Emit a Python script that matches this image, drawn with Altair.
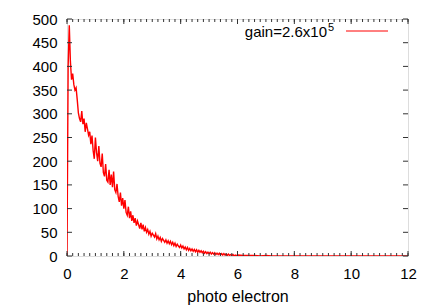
import altair as alt
import pandas as pd

# histogram counts, bins of 0.04 photo electrons from 0 to 6
bin_width = 0.04
counts = [
    0, 400, 487, 410, 372, 385, 362, 350, 355, 330,
    302, 290, 283, 306, 278, 290, 262, 281, 268, 255,
    262, 236, 254, 222, 205, 250, 218, 200, 232, 196,
    188, 216, 176, 168, 194, 160, 156, 182, 150, 172,
    145, 178, 140, 134, 152, 126, 114, 134, 106, 122,
    100, 118, 92, 86, 104, 80, 94, 74, 86, 70,
    80, 64, 74, 66, 58, 70, 56, 66, 52, 60,
    50, 56, 46, 52, 42, 48, 44, 40, 47, 36,
    42, 34, 39, 31, 37, 33, 29, 34, 27, 32,
    26, 31, 24, 29, 22, 27, 20, 25, 21, 18,
    23, 17, 21, 15, 19, 13, 18, 12, 16, 11,
    15, 10, 14, 9, 13, 8, 12, 8, 11, 7,
    10, 6, 9, 5, 8, 5, 8, 4, 7, 4,
    7, 3, 6, 3, 6, 2, 5, 2, 5, 2,
    4, 1, 4, 1, 3, 1, 3, 0, 2, 1,
]
# tail from 6 to 12 (step 0.2)
tail_x = [6.0, 6.2, 6.4, 6.6, 6.8, 7.0, 7.2, 7.4, 7.6, 7.8, 8.0, 8.2, 8.4, 8.6, 8.8,
          9.0, 9.2, 9.4, 9.6, 9.8, 10.0, 10.2, 10.4, 10.6, 10.8, 11.0, 11.2, 11.4, 11.6, 11.8, 12.0]
tail_counts = [2, 1, 1, 1, 0, 1, 0, 0, 0, 0, 0, 0, 0, 0, 0,
               0, 0, 0, 0, 0, 0, 0, 0, 0, 0, 0, 0, 0, 0, 0, 0]

x_major = [0, 2, 4, 6, 8, 10, 12]
x_minor = [round(i * 0.2, 1) for i in range(61)]
y_major = [0, 50, 100, 150, 200, 250, 300, 350, 400, 450, 500]

legend_label = "gain=2.6x10"
legend_sup = "5"

W, H = 341, 237
FONT = "Liberation Sans"

xs = [round(i * bin_width, 2) for i in range(len(counts))] + tail_x
ys = counts + tail_counts
df = pd.DataFrame({"x": xs, "y": ys})

xscale = alt.Scale(domain=[0, 12], nice=False, zero=False)
yscale = alt.Scale(domain=[0, 500], nice=False)

xaxis = alt.Axis(values=x_major, title="photo electron", tickSize=0, domain=False,
                 grid=False, labelPadding=10, labelFontSize=15, labelColor="black",
                 labelFont=FONT, titleFont=FONT, titleFontSize=16, labelOverlap=False,
                 labelFlush=False, titleFontWeight="normal", titleColor="black",
                 titlePadding=7)
yaxis = alt.Axis(values=y_major, title=None, tickSize=0, domain=False, grid=False,
                 labelPadding=10, labelFontSize=15, labelColor="black",
                 labelFont=FONT, labelOverlap=False, labelBound=False, labelFlush=False)

X = alt.X("x:Q", scale=xscale, axis=xaxis, title="photo electron")
Y = alt.Y("y:Q", scale=yscale, axis=yaxis, title=None)

line = alt.Chart(df).mark_line(color="#ff0000", strokeWidth=1.4, clip=True).encode(x=X, y=Y)

# inward ticks (gnuplot style)
dminor = pd.DataFrame({"x": x_minor})
dmajor = pd.DataFrame({"x": x_major})
dy = pd.DataFrame({"y": y_major})

tick_col = "#333333"
xmin_bot = alt.Chart(dminor).mark_rule(color=tick_col, strokeWidth=1).encode(
    x=X, y=alt.value(H), y2=alt.value(H - 3))
xmin_top = alt.Chart(dminor).mark_rule(color=tick_col, strokeWidth=1).encode(
    x=X, y=alt.value(0), y2=alt.value(3))
xmaj_bot = alt.Chart(dmajor).mark_rule(color=tick_col, strokeWidth=1).encode(
    x=X, y=alt.value(H), y2=alt.value(H - 5))
xmaj_top = alt.Chart(dmajor).mark_rule(color=tick_col, strokeWidth=1).encode(
    x=X, y=alt.value(0), y2=alt.value(5))
ymaj_l = alt.Chart(dy).mark_rule(color=tick_col, strokeWidth=1).encode(
    y=Y, x=alt.value(0), x2=alt.value(5))
ymaj_r = alt.Chart(dy).mark_rule(color=tick_col, strokeWidth=1).encode(
    y=Y, x=alt.value(W), x2=alt.value(W - 5))

leg_text = alt.Chart(pd.DataFrame({"t": [legend_label]})).mark_text(
    align="right", baseline="alphabetic", font=FONT, fontSize=15, color="black").encode(
    text="t:N", x=alt.value(260), y=alt.value(18))
leg_sup = alt.Chart(pd.DataFrame({"t": [legend_sup]})).mark_text(
    align="left", baseline="alphabetic", font=FONT, fontSize=11, color="black").encode(
    text="t:N", x=alt.value(261), y=alt.value(12))
leg_line = alt.Chart(pd.DataFrame({"t": [legend_label]})).mark_rule(
    color="#ff0000", strokeWidth=1).encode(
    x=alt.value(279), x2=alt.value(321), y=alt.value(12))

chart = alt.layer(
    line, xmin_bot, xmin_top, xmaj_bot, xmaj_top, ymaj_l, ymaj_r,
    leg_text, leg_sup, leg_line,
).properties(
    width=W, height=H,
    autosize=alt.AutoSizeParams(type="none"),
    padding={"left": 59, "top": 11, "right": 18, "bottom": 49},
).configure_view(stroke="black", strokeWidth=1).configure(background="white")

chart.save("out.html", embed_options={"renderer": "svg", "actions": False})
